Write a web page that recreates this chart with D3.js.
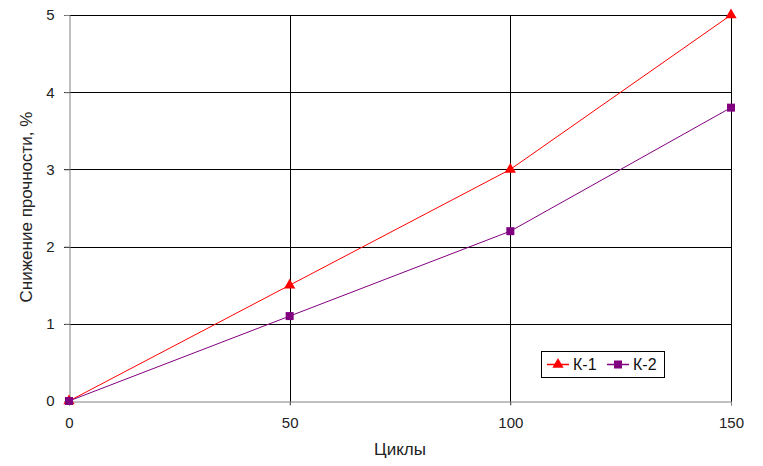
<!DOCTYPE html>
<html>
<head>
<meta charset="utf-8">
<script src="https://cdn.jsdelivr.net/npm/d3@7"></script>
<style>
  body { margin: 0; background: #fff; }
  svg { font-family: "Liberation Sans", Arial, sans-serif; }
</style>
</head>
<body>
<div id="chart"></div>
<script>
const cycles = [0, 50, 100, 150];
const k1 = [0, 1.5, 3, 5];
const k2 = [0, 1.1, 2.2, 3.8];
const yTicks = [0, 1, 2, 3, 4, 5];
const seriesNames = ["К-1", "К-2"];

function chart() {
    const width = 763, height = 466;
    const margin = {left: 69, top: 15, right: 32, bottom: 65};

    const x = d3.scaleLinear().domain([0, 150]).range([margin.left, width - margin.right]);
    const y = d3.scaleLinear().domain([0, 5]).range([height - margin.bottom, margin.top]);

    const svg = d3.create("svg")
        .attr("width", width)
        .attr("height", height)
        .attr("style", "font-size: 15px;");

    // horizontal grid
    svg.append("g")
        .attr("stroke", "#000")
        .selectAll()
        .data(yTicks.filter(d => d > 0))
        .join("line")
        .attr("x1", x(0) - 5).attr("x2", x(150))
        .attr("y1", d => Math.round(y(d)) + 0.5).attr("y2", d => Math.round(y(d)) + 0.5);

    // vertical grid
    svg.append("g")
        .attr("stroke", "#000")
        .selectAll()
        .data(cycles.filter(d => d > 0))
        .join("line")
        .attr("x1", d => Math.round(x(d)) + 0.5).attr("x2", d => Math.round(x(d)) + 0.5)
        .attr("y1", y(5)).attr("y2", y(0) + 4);

    // axes (gray)
    const yAxis = svg.append("g")
        .attr("transform", `translate(${Math.round(x(0)) + 0.5},0)`)
        .call(d3.axisLeft(y).tickValues(yTicks).tickFormat(d3.format("d")).tickSize(5).tickPadding(10));
    yAxis.select(".domain").attr("stroke", "#808080");
    yAxis.selectAll(".tick line").attr("stroke", "#808080");
    yAxis.selectAll("text").attr("font-size", 15).attr("fill", "#222").attr("font-family", null);

    const xAxis = svg.append("g")
        .attr("transform", `translate(0,${Math.round(y(0)) + 0.5})`)
        .call(d3.axisBottom(x).tickValues(cycles).tickSize(4).tickPadding(12));
    xAxis.select(".domain").attr("stroke", "#808080");
    xAxis.selectAll(".tick line").attr("stroke", "#808080");
    xAxis.selectAll("text").attr("font-size", 15).attr("fill", "#222").attr("font-family", null);

    const line = d3.line().x((d, i) => x(cycles[i])).y(d => y(d));

    const series = [
        {name: seriesNames[0], values: k1, color: "#ff0000", symbol: d3.symbolTriangle, size: 55},
        {name: seriesNames[1], values: k2, color: "#800080", symbol: d3.symbolSquare, size: 64}
    ];

    for (const s of series) {
        svg.append("path")
            .attr("fill", "none")
            .attr("stroke", s.color)
            .attr("stroke-width", 1)
            .attr("d", line(s.values));
        svg.append("g")
            .selectAll()
            .data(s.values)
            .join("path")
            .attr("transform", (d, i) => `translate(${x(cycles[i])},${y(d)})`)
            .attr("fill", s.color)
            .attr("d", d3.symbol(s.symbol, s.size));
    }

    // legend
    const lg = svg.append("g").attr("transform", "translate(541,351)");
    lg.append("rect")
        .attr("x", 0.5).attr("y", 0.5)
        .attr("width", 123).attr("height", 26)
        .attr("fill", "#fff").attr("stroke", "#000");
    series.forEach((s, i) => {
        const gx = 6 + i * 60;
        lg.append("line")
            .attr("x1", gx).attr("x2", gx + 22)
            .attr("y1", 13.5).attr("y2", 13.5)
            .attr("stroke", s.color).attr("stroke-width", 1.5);
        lg.append("path")
            .attr("transform", `translate(${gx + 11},13.5)`)
            .attr("fill", s.color)
            .attr("d", d3.symbol(s.symbol, s.size));
        lg.append("text")
            .attr("x", gx + 26).attr("y", 19)
            .attr("font-size", 16)
            .attr("fill", "#111")
            .text(s.name);
    });

    // axis titles
    svg.append("text")
        .attr("x", (x(0) + x(150)) / 2)
        .attr("y", 455)
        .attr("text-anchor", "middle")
        .attr("font-size", 17)
        .attr("fill", "#222")
        .text("Циклы");

    svg.append("text")
        .attr("transform", `translate(32,207) rotate(-90)`)
        .attr("text-anchor", "middle")
        .attr("font-size", 17)
        .attr("fill", "#222")
        .text("Снижение прочности, %");

    return svg.node();
}

document.getElementById("chart").appendChild(chart());
</script>
</body>
</html>
